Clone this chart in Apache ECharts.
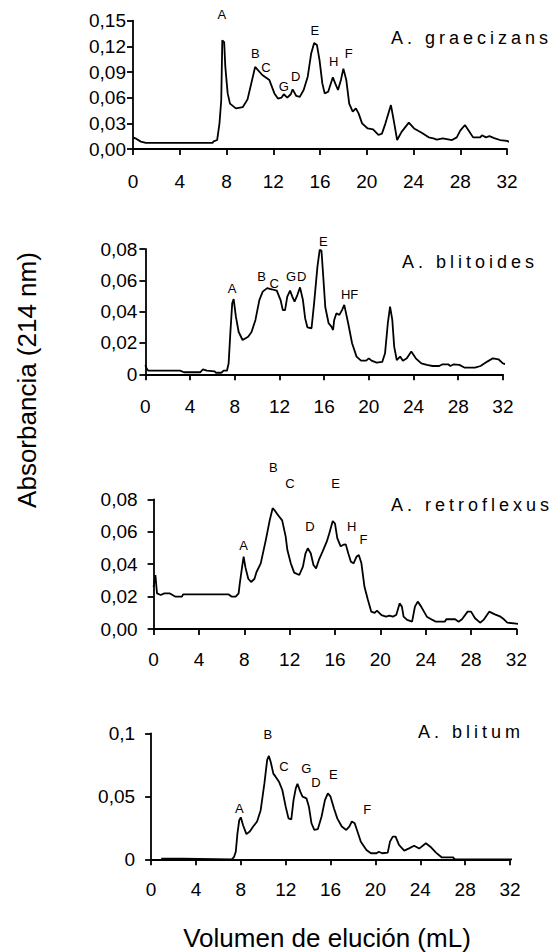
<!DOCTYPE html>
<html>
<head>
<meta charset="utf-8">
<script src="https://cdn.jsdelivr.net/npm/echarts@6/dist/echarts.min.js"></script>
<style>
html, body { margin: 0; padding: 0; background: #fff; }
#main { width: 560px; height: 952px; }
/* titulos con letras espaciadas */
#main text[style*="Arimo"] { letter-spacing: 4px; }
</style>
</head>
<body>
<div id="main"></div>
<script>
// A. graecizans
var graeX = [0, 0.2, 0.67, 1.1, 6.8, 6.9, 7.2, 7.4, 7.55, 7.64, 7.8, 7.9, 8.1, 8.3, 8.8, 9.4, 9.8, 10.45, 11.06, 11.67, 12.1, 12.4, 12.7, 12.9, 13.2, 13.5, 13.66, 13.97, 14.27, 14.6, 14.95, 15.25, 15.5, 15.74, 15.96, 16.2, 16.4, 16.7, 17.1, 17.3, 17.54, 17.79, 18.0, 18.25, 18.5, 18.8, 19.07, 19.3, 19.6, 20.08, 20.54, 21.0, 21.3, 21.6, 22.07, 22.3, 22.6, 22.98, 23.6, 24.05, 24.7, 25.3, 25.7, 26.0, 26.5, 27.3, 27.7, 28.0, 28.4, 28.8, 29.1, 29.7, 29.86, 30.2, 30.5, 30.9, 31.4, 32.0, 32.4];
var graeY = [0.0135, 0.0125, 0.0086, 0.0072, 0.0072, 0.009, 0.0105, 0.03, 0.057, 0.127, 0.125, 0.096, 0.065, 0.053, 0.0475, 0.049, 0.058, 0.096, 0.0865, 0.0806, 0.065, 0.059, 0.060, 0.064, 0.060, 0.064, 0.0697, 0.062, 0.061, 0.069, 0.0845, 0.112, 0.124, 0.1215, 0.104, 0.0767, 0.065, 0.067, 0.0838, 0.0767, 0.069, 0.0806, 0.094, 0.0806, 0.053, 0.0436, 0.0475, 0.0417, 0.030, 0.024, 0.023, 0.0164, 0.018, 0.030, 0.0514, 0.034, 0.0105, 0.020, 0.0308, 0.024, 0.019, 0.0136, 0.0125, 0.011, 0.0125, 0.0105, 0.0136, 0.0214, 0.028, 0.020, 0.0136, 0.0136, 0.016, 0.0136, 0.015, 0.0128, 0.0105, 0.0094, 0.0074];
var graePeaks = ['A', 'B', 'C', 'G', 'D', 'E', 'H', 'F'];
var graePeakX = [7.61, 10.46, 11.38, 12.90, 13.91, 15.56, 17.18, 18.46];
var graePeakY = [0.1567, 0.1119, 0.0949, 0.0736, 0.0846, 0.1391, 0.1020, 0.1119];

// A. blitoides
var bltdX = [0, 0.1, 0.26, 3.1, 3.45, 4.9, 5.15, 5.5, 6.2, 6.3, 6.8, 7.0, 7.3, 7.45, 7.6, 7.77, 7.9, 8.1, 8.35, 8.7, 9.2, 9.5, 9.85, 10.2, 10.5, 10.9, 11.3, 11.76, 12.1, 12.3, 12.5, 12.7, 12.95, 13.15, 13.35, 13.6, 13.84, 14.1, 14.3, 14.5, 14.87, 15.1, 15.4, 15.6, 15.76, 15.9, 16.1, 16.4, 16.65, 16.8, 16.9, 17.1, 17.36, 17.6, 17.8, 18.15, 18.5, 18.9, 19.3, 19.76, 20.0, 20.24, 20.7, 21.2, 21.45, 21.7, 21.9, 22.1, 22.27, 22.5, 22.8, 23.05, 23.4, 23.8, 24.2, 24.7, 25.2, 25.7, 26.3, 26.6, 27.1, 27.3, 27.6, 28.1, 28.55, 29.5, 30.0, 30.6, 31.1, 31.6, 32.0, 32.4];
var bltdY = [0.006, 0.0038, 0.0023, 0.0023, 0.0013, 0.0013, 0.0032, 0.0023, 0.0019, 0.001, 0.001, 0.0023, 0.0023, 0.007, 0.026, 0.0453, 0.048, 0.0368, 0.027, 0.0219, 0.024, 0.027, 0.0347, 0.0474, 0.0528, 0.055, 0.0543, 0.0534, 0.0474, 0.041, 0.041, 0.0496, 0.0534, 0.0496, 0.0464, 0.0506, 0.0555, 0.0474, 0.0357, 0.030, 0.0294, 0.0453, 0.0687, 0.0794, 0.079, 0.0645, 0.043, 0.0326, 0.0304, 0.0283, 0.0347, 0.039, 0.0379, 0.041, 0.0443, 0.0326, 0.0198, 0.0113, 0.0087, 0.0087, 0.0102, 0.0087, 0.0074, 0.0079, 0.0134, 0.0326, 0.0432, 0.0347, 0.0177, 0.0091, 0.0113, 0.0087, 0.0102, 0.0145, 0.0102, 0.007, 0.006, 0.0053, 0.0053, 0.0064, 0.0064, 0.0053, 0.0064, 0.006, 0.0043, 0.0043, 0.0053, 0.0081, 0.0102, 0.0096, 0.007, 0.006];
var bltdPeaks = ['A', 'B', 'C', 'G', 'D', 'E', 'H', 'F'];
var bltdPeakX = [7.76, 10.41, 11.53, 13.03, 14.00, 15.92, 17.93, 18.70];
var bltdPeakY = [0.0549, 0.0627, 0.0581, 0.0627, 0.0627, 0.0847, 0.0511, 0.0511];

// A. retroflexus
var retrX = [0, 0.16, 0.3, 0.63, 0.95, 1.4, 1.9, 2.5, 2.6, 6.6, 6.87, 7.24, 7.5, 7.6, 7.8, 7.94, 8.1, 8.35, 8.6, 8.9, 9.07, 9.45, 9.9, 10.24, 10.5, 10.7, 11.0, 11.34, 11.65, 11.8, 12.1, 12.4, 12.85, 13.17, 13.4, 13.6, 13.86, 14.1, 14.33, 14.58, 14.9, 15.28, 15.5, 15.8, 16.0, 16.2, 16.5, 16.75, 16.95, 17.17, 17.4, 17.64, 17.9, 18.1, 18.33, 18.6, 18.9, 19.2, 19.5, 19.7, 20.1, 20.5, 20.8, 21.1, 21.4, 21.7, 21.9, 22.05, 22.36, 22.8, 23.05, 23.3, 23.6, 24.1, 24.6, 24.9, 25.7, 25.8, 26.6, 26.9, 27.2, 27.7, 28.0, 28.35, 28.8, 29.1, 29.6, 30.1, 30.6, 30.9, 31.2, 31.8, 32.3, 32.5];
var retrY = [0.026, 0.0333, 0.022, 0.021, 0.022, 0.022, 0.020, 0.020, 0.0214, 0.0214, 0.020, 0.020, 0.022, 0.028, 0.038, 0.0446, 0.038, 0.031, 0.029, 0.031, 0.035, 0.0405, 0.055, 0.067, 0.0745, 0.073, 0.070, 0.067, 0.057, 0.0487, 0.0405, 0.0348, 0.0333, 0.0385, 0.0467, 0.0498, 0.0467, 0.0395, 0.0374, 0.0426, 0.0477, 0.054, 0.059, 0.0666, 0.065, 0.056, 0.051, 0.052, 0.0522, 0.0467, 0.0415, 0.0405, 0.0446, 0.0457, 0.0405, 0.026, 0.018, 0.0107, 0.010, 0.0113, 0.0086, 0.0076, 0.0082, 0.0076, 0.0086, 0.0158, 0.0138, 0.0076, 0.0056, 0.0045, 0.0138, 0.0169, 0.0138, 0.0076, 0.0056, 0.0045, 0.0045, 0.006, 0.006, 0.0045, 0.006, 0.0107, 0.0107, 0.0066, 0.0039, 0.0056, 0.0107, 0.009, 0.0076, 0.006, 0.0039, 0.0035, 0.003, 0.0027];
var retrPeaks = ['A', 'B', 'C', 'D', 'E', 'H', 'F'];
var retrPeakX = [7.94, 10.55, 12.03, 13.80, 16.06, 17.48, 18.52];
var retrPeakY = [0.0518, 0.0997, 0.0899, 0.0631, 0.0899, 0.0631, 0.0549];

// A. blitum
var blitX = [0.9, 2.8, 7.2, 7.4, 7.55, 7.7, 7.86, 8.0, 8.2, 8.5, 8.8, 9.1, 9.45, 9.77, 10.1, 10.35, 10.5, 10.66, 10.9, 11.1, 11.4, 11.7, 12.0, 12.25, 12.5, 12.7, 12.9, 13.05, 13.3, 13.5, 13.85, 14.07, 14.3, 14.55, 14.87, 15.2, 15.5, 15.76, 16.0, 16.3, 16.6, 17.0, 17.4, 17.67, 17.9, 18.15, 18.4, 18.7, 19.2, 19.6, 20.1, 20.3, 20.6, 21.1, 21.3, 21.55, 21.8, 22.1, 22.57, 23.0, 23.45, 23.9, 24.5, 24.9, 25.4, 25.9, 26.9, 27.1, 32.4];
var blitY = [0.0006, 0.0006, 0, 0.002, 0.006, 0.0206, 0.031, 0.0333, 0.027, 0.020, 0.022, 0.026, 0.030, 0.039, 0.060, 0.079, 0.082, 0.0775, 0.068, 0.0656, 0.0616, 0.055, 0.0418, 0.0325, 0.0317, 0.047, 0.0563, 0.060, 0.0537, 0.0497, 0.0484, 0.0418, 0.0286, 0.0233, 0.024, 0.034, 0.047, 0.0524, 0.0497, 0.0405, 0.0325, 0.026, 0.0233, 0.026, 0.030, 0.0286, 0.022, 0.014, 0.0074, 0.0048, 0.0048, 0.006, 0.0048, 0.0053, 0.014, 0.018, 0.018, 0.0114, 0.0069, 0.0087, 0.0108, 0.0085, 0.0127, 0.010, 0.0053, 0.0016, 0.0016, 0, 0];
var blitPeaks = ['A', 'B', 'C', 'G', 'D', 'E', 'F'];
var blitPeakX = [7.86, 10.41, 11.84, 13.85, 14.70, 16.24, 19.26];
var blitPeakY = [0.0405, 0.0993, 0.0733, 0.0720, 0.0606, 0.0673, 0.0392];

var font = "'Liberation Sans', Arial, sans-serif";
var titleFont = "Arimo, 'Liberation Sans', sans-serif";

var panels = [
  { name: 'A. graecizans', x: graeX, y: graeY, pk: graePeaks, pkx: graePeakX, pky: graePeakY,
    ymax: 0.15, step: 0.03, zero: '0,00', grid: { left: 133, width: 374, top: 20.7, height: 128.3 },
    labMargin: 7, xMargin: 23, title: [391, 38] },
  { name: 'A. blitoides', x: bltdX, y: bltdY, pk: bltdPeaks, pkx: bltdPeakX, pky: bltdPeakY,
    ymax: 0.08, step: 0.02, zero: '0', grid: { left: 145.4, width: 357.5, top: 249, height: 125.3 },
    labMargin: 8, xMargin: 23, title: [402, 262] },
  { name: 'A. retroflexus', x: retrX, y: retrY, pk: retrPeaks, pkx: retrPeakX, pky: retrPeakY,
    ymax: 0.08, step: 0.02, zero: '0,00', grid: { left: 153.6, width: 362.8, top: 499.3, height: 129.7 },
    labMargin: 16, xMargin: 21, title: [391, 505] },
  { name: 'A. blitum', x: blitX, y: blitY, pk: blitPeaks, pkx: blitPeakX, pky: blitPeakY,
    ymax: 0.1, step: 0.05, zero: '0', grid: { left: 151.1, width: 358.9, top: 733.3, height: 126 },
    labMargin: 16, xMargin: 21, title: [418, 732] }
];

var axisLine = { lineStyle: { color: '#000', width: 1.8 } };
var axisTick = { inside: false, length: 6, lineStyle: { color: '#000', width: 1.8 } };

var grid = [], xAxis = [], yAxis = [], series = [], graphic = [];

panels.forEach(function (p, i) {
  grid.push(p.grid);
  xAxis.push({
    gridIndex: i, type: 'value', min: 0, max: 32, interval: 4,
    axisLine: axisLine, axisTick: axisTick, splitLine: { show: false },
    axisLabel: { color: '#000', fontSize: 19, fontFamily: font, margin: p.xMargin }
  });
  yAxis.push({
    gridIndex: i, type: 'value', min: 0, max: p.ymax, interval: p.step,
    axisLine: { show: true, lineStyle: axisLine.lineStyle }, axisTick: axisTick, splitLine: { show: false },
    axisLabel: {
      color: '#000', fontSize: 19, fontFamily: font, margin: p.labMargin,
      formatter: function (v) {
        if (v === 0) return p.zero;
        var s = p.step === 0.05 ? (Math.round(v * 100) / 100).toString() : v.toFixed(2);
        return s.replace('.', ',');
      }
    }
  });
  var pts = p.x.map(function (x, k) { return [x, p.y[k]]; });
  series.push({
    type: 'line', xAxisIndex: i, yAxisIndex: i, data: pts, symbol: 'none', clip: false,
    lineStyle: { color: '#000', width: 1.8 }, silent: true
  });
  // letras de los picos
  series.push({
    type: 'scatter', xAxisIndex: i, yAxisIndex: i, symbolSize: 0, clip: false, silent: true,
    itemStyle: { color: '#000', opacity: 1 },
    data: p.pk.map(function (n, k) { return { name: n, value: [p.pkx[k], p.pky[k]] }; }),
    label: {
      show: true, position: 'inside', formatter: '{b}', color: '#000', opacity: 1,
      textBorderWidth: 0, fontSize: 13, fontFamily: font
    }
  });
  graphic.push({
    type: 'text', x: p.title[0], y: p.title[1], silent: true,
    style: { text: p.name, fill: '#000', fontSize: 18, fontFamily: titleFont, align: 'left', verticalAlign: 'middle' }
  });
});

graphic.push({
  type: 'text', x: 27, y: 380, rotation: Math.PI / 2, silent: true,
  style: { text: 'Absorbancia (214 nm)', fill: '#000', fontSize: 26, fontFamily: font, align: 'center', verticalAlign: 'middle' }
});
graphic.push({
  type: 'text', x: 327, y: 938, silent: true,
  style: { text: 'Volumen de elución (mL)', fill: '#000', fontSize: 26, fontFamily: font, align: 'center', verticalAlign: 'middle' }
});

var chart = echarts.init(document.getElementById('main'), null, { renderer: 'svg' });
chart.setOption({
  backgroundColor: '#fff',
  animation: false,
  grid: grid,
  xAxis: xAxis,
  yAxis: yAxis,
  series: series,
  graphic: graphic
});
</script>
</body>
</html>
